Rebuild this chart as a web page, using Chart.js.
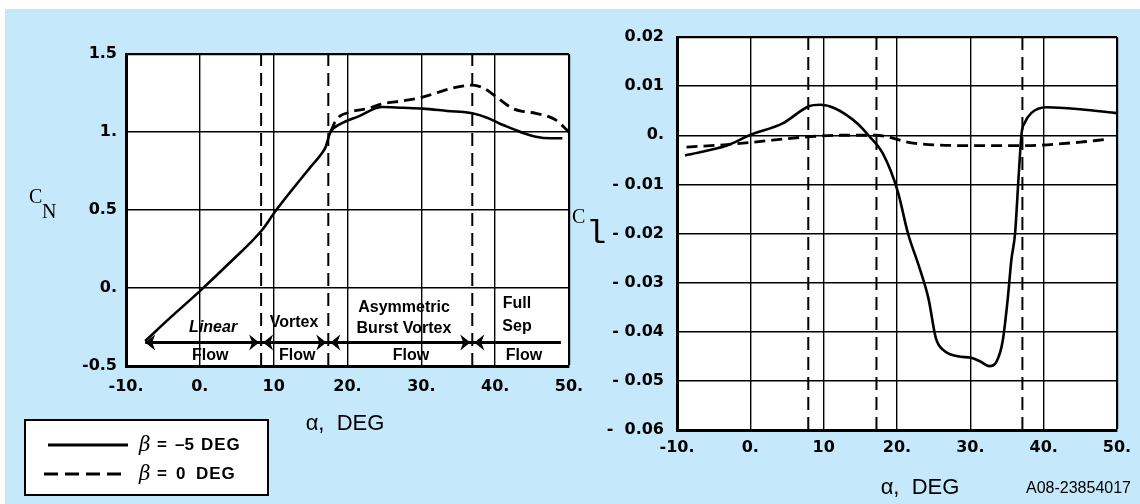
<!DOCTYPE html>
<html>
<head>
<meta charset="utf-8">
<script src="https://cdn.jsdelivr.net/npm/chart.js@4.4.1/dist/chart.umd.min.js"></script>
<style>
html,body{margin:0;padding:0;background:#fff;}
#wrap{position:relative;width:1140px;height:504px;overflow:hidden;background:#fff;}
#bg{position:absolute;left:5px;top:9px;width:1135px;height:495px;background:#C5E8FB;}
canvas{position:absolute;left:0;top:0;}
</style>
</head>
<body>
<div id="wrap">
  <div id="bg"></div>
  <canvas id="cn" width="1140" height="504"></canvas>
  <canvas id="cl" width="1140" height="504"></canvas>
</div>
<script>
// ---------------- data ----------------
const alphaTickValues = [-10, 0, 10, 20, 30, 40, 50];
const alphaTickLabels = ['-10.', '0.', '10', '20.', '30.', '40.', '50.'];
const cnTickLabels = ['-0.5', '0.', '0.5', '1.', '1.5'];
const clTickLabels = ['-  0.06', '- 0.05', '- 0.04', '- 0.03', '- 0.02', '- 0.01', '0.', '0.01', '0.02'];

// C_N, beta = -5 deg (solid)
const cnAlphaBetaM5 = [-7.4, -4, 0, 4, 8.4, 10.2, 12.5, 14.9, 16.3, 17.0, 17.7, 19.0, 21.5, 24.7, 27.5, 30.2, 33.5, 36.9, 39.0, 40.8, 42.4, 44.0, 45.5, 47.5, 49.1];
const cnBetaM5      = [-0.34, -0.19, -0.02, 0.16, 0.37, 0.49, 0.63, 0.77, 0.85, 0.90, 1.00, 1.05, 1.10, 1.16, 1.155, 1.15, 1.135, 1.12, 1.09, 1.05, 1.02, 0.99, 0.97, 0.96, 0.96];
// C_N, beta = 0 deg (dashed)
const cnAlphaBeta0 = [17.7, 18.5, 20.5, 22.7, 24.7, 27.5, 29.9, 32.0, 34.1, 36.9, 38.5, 40.3, 42.4, 44.0, 45.5, 48.1, 50.0];
const cnBeta0      = [1.00, 1.08, 1.13, 1.15, 1.18, 1.20, 1.22, 1.25, 1.28, 1.30, 1.28, 1.22, 1.15, 1.13, 1.12, 1.08, 1.00];

// C_l, beta = -5 deg (solid)
const clAlphaBetaM5 = [-8.9, -3.2, -0.1, 4.4, 8.0, 9.5, 11.5, 14.6, 16.1, 18.1, 20.1, 21.5, 23.0, 24.3, 25.3, 26.3, 28.3, 30.1, 31.3, 32.6, 33.6, 34.4, 35.1, 35.6, 36.1, 36.6, 37.0, 37.4, 38.3, 40.4, 45.0, 50.0];
const clBetaM5      = [-0.0041, -0.0021, 0, 0.0024, 0.0059, 0.0062, 0.0055, 0.0024, 0, -0.0038, -0.0114, -0.020, -0.0267, -0.0333, -0.0413, -0.0437, -0.045, -0.0453, -0.046, -0.047, -0.046, -0.042, -0.0333, -0.0253, -0.020, -0.008, 0.0005, 0.0025, 0.0045, 0.0057, 0.0053, 0.0045];
// C_l, beta = 0 deg (dashed)
const clAlphaBeta0 = [-8.7, -3.2, 0.4, 8.0, 12.5, 17.1, 22.2, 29.8, 37.3, 45.0, 48.2];
const clBeta0      = [-0.0024, -0.0019, -0.0014, -0.0003, 0, 0, -0.0016, -0.0021, -0.0021, -0.0014, -0.0009];

// flow-regime boundaries (alpha, deg)
const cnRegionBounds = [8.3, 17.4, 36.9];
const clRegionBounds = [7.9, 17.2, 37.1];
const flowArrowEnds = [-7.4, 48.9];
const flowRegionNames = [['Linear', 'Flow'], ['Vortex', 'Flow'], ['Asymmetric', 'Burst Vortex', 'Flow'], ['Full', 'Sep', 'Flow']];
const legendEntries = [['β', '=', '–5', 'DEG'], ['β', '=', '0', 'DEG']];

// ---------------- layout / styles ----------------
const TICK_FONT = {family: '"DejaVu Sans", sans-serif', weight: 'bold', size: 16};
// annotation placement (data units of the C_N chart)
const regionLabelPos = [
  [{x: 1.8, y: -0.254, italic: true}, {x: 1.4, y: -0.434}],
  [{x: 12.75, y: -0.221}, {x: 13.2, y: -0.434}],
  [{x: 27.65, y: -0.125}, {x: 27.65, y: -0.26}, {x: 28.6, y: -0.434}],
  [{x: 42.96, y: -0.099}, {x: 42.96, y: -0.247}, {x: 43.9, y: -0.434}]
];
const ARROW_LEVEL = -0.35;

function pts(xs, ys) { return xs.map((x, i) => ({x: x, y: ys[i]})); }

function boundaryDatasets(bounds, yMin, yMax) {
  return bounds.map(b => ({
    data: [{x: b, y: yMin}, {x: b, y: yMax}],
    borderColor: '#000', borderWidth: 2, borderDash: [13, 7],
    pointRadius: 0, fill: false, tension: 0
  }));
}

function seriesDataset(xs, ys, dashed) {
  return {
    data: pts(xs, ys),
    borderColor: '#000', borderWidth: dashed ? 2.8 : 2.6,
    borderDash: dashed ? [11, 6] : [],
    pointRadius: 0, fill: false,
    cubicInterpolationMode: 'monotone'
  };
}

const plotBg = {
  id: 'plotBg',
  beforeDraw(chart) {
    const {ctx, chartArea: a} = chart;
    ctx.save();
    ctx.fillStyle = '#fff';
    ctx.fillRect(a.left, a.top, a.right - a.left, a.bottom - a.top);
    ctx.restore();
  }
};

function gridWidth(c) {
  const n = c.scale.ticks.length;
  return c.index === n - 1 ? 2.2 : 1.4;
}

function makeOptions(pad, yWidth, xHeight, yMin, yMax, yStep, yLabels, yPad, xPad) {
  return {
    responsive: false, animation: false, devicePixelRatio: 1, events: [],
    layout: {padding: pad},
    plugins: {legend: {display: false}, tooltip: {enabled: false}},
    scales: {
      x: {
        type: 'linear', min: -10, max: 50,
        ticks: {
          stepSize: 10, padding: xPad, color: '#000', font: TICK_FONT,
          autoSkip: false, maxRotation: 0,
          callback: v => alphaTickLabels[alphaTickValues.indexOf(Math.round(v))]
        },
        grid: {color: '#000', lineWidth: gridWidth, drawTicks: false},
        border: {display: true, color: '#000', width: 3},
        afterFit: s => { s.height = xHeight; }
      },
      y: {
        type: 'linear', min: yMin, max: yMax,
        ticks: {
          stepSize: yStep, padding: yPad, color: '#000', font: TICK_FONT,
          autoSkip: false,
          callback: (v, i) => yLabels[i]
        },
        grid: {color: '#000', lineWidth: gridWidth, drawTicks: false},
        border: {display: true, color: '#000', width: 3},
        afterFit: s => { s.width = yWidth; }
      }
    }
  };
}

function arrowHead(ctx, x, y, dir) {
  ctx.beginPath();
  ctx.moveTo(x, y);
  ctx.lineTo(x - dir * 10, y - 8);
  ctx.lineTo(x - dir * 7, y);
  ctx.lineTo(x - dir * 10, y + 8);
  ctx.closePath();
  ctx.fill();
}

const cnAnnotations = {
  id: 'cnAnnotations',
  afterDatasetsDraw(chart) {
    const {ctx} = chart;
    const xs = chart.scales.x, ys = chart.scales.y;
    const y = ys.getPixelForValue(ARROW_LEVEL);
    const x0 = xs.getPixelForValue(flowArrowEnds[0]);
    const x1 = xs.getPixelForValue(flowArrowEnds[1]);
    ctx.save();
    ctx.strokeStyle = '#000'; ctx.fillStyle = '#000';
    ctx.lineWidth = 3;
    ctx.beginPath(); ctx.moveTo(x0, y); ctx.lineTo(x1, y); ctx.stroke();
    arrowHead(ctx, x0, y, -1);
    cnRegionBounds.forEach(b => {
      const bx = xs.getPixelForValue(b);
      arrowHead(ctx, bx - 2, y, 1);
      arrowHead(ctx, bx + 2, y, -1);
    });
    ctx.textAlign = 'center'; ctx.textBaseline = 'middle';
    flowRegionNames.forEach((lines, r) => {
      lines.forEach((t, k) => {
        const p = regionLabelPos[r][k];
        ctx.font = (p.italic ? 'italic ' : '') + 'bold 16px "Liberation Sans", Arial, sans-serif';
        ctx.fillText(t, xs.getPixelForValue(p.x), ys.getPixelForValue(p.y));
      });
    });
    ctx.restore();
  },
  afterDraw(chart) {
    const {ctx} = chart;
    ctx.save();
    ctx.fillStyle = '#000';
    // y axis label C_N
    ctx.font = '20px "Liberation Serif", serif';
    ctx.textBaseline = 'alphabetic'; ctx.textAlign = 'left';
    ctx.fillText('C', 29, 203);
    ctx.fillText('N', 42, 218);
    // x axis title
    ctx.font = '22px "Liberation Sans", Arial, sans-serif';
    ctx.textAlign = 'center'; ctx.textBaseline = 'middle';
    ctx.fillText('α,  DEG', 345, 424);
    // legend box
    ctx.fillStyle = '#fff';
    ctx.fillRect(25, 420, 243, 75);
    ctx.strokeStyle = '#000'; ctx.lineWidth = 2;
    ctx.strokeRect(25, 420, 243, 75);
    ctx.lineWidth = 3;
    ctx.beginPath(); ctx.moveTo(48, 445); ctx.lineTo(128, 445); ctx.stroke();
    ctx.setLineDash([14, 7]);
    ctx.beginPath(); ctx.moveTo(44, 474); ctx.lineTo(127, 474); ctx.stroke();
    ctx.setLineDash([]);
    ctx.fillStyle = '#000';
    ctx.textAlign = 'left'; ctx.textBaseline = 'middle';
    const rows = [445, 474];
    const xPos = [[139, 157, 175, 201], [139, 157, 176, 196]];
    legendEntries.forEach((parts, r) => {
      parts.forEach((t, k) => {
        if (k === 0) ctx.font = 'italic 20px "DejaVu Serif", serif';
        else ctx.font = 'bold 17px "Liberation Sans", Arial, sans-serif';
        ctx.letterSpacing = (k === 3) ? '1px' : '0px';
        ctx.fillText(t, xPos[r][k], rows[r] + (k === 0 ? 1 : 0));
      });
    });
    ctx.letterSpacing = '0px';
    ctx.restore();
  }
};

const clAnnotations = {
  id: 'clAnnotations',
  afterDraw(chart) {
    const {ctx} = chart;
    ctx.save();
    ctx.fillStyle = '#000';
    ctx.textAlign = 'left'; ctx.textBaseline = 'alphabetic';
    ctx.font = '20px "Liberation Serif", serif';
    ctx.fillText('C', 572, 223);
    ctx.font = '34px "Liberation Mono", monospace';
    ctx.fillText('l', 586, 243);
    ctx.font = '22px "Liberation Sans", Arial, sans-serif';
    ctx.textAlign = 'center'; ctx.textBaseline = 'middle';
    ctx.fillText('α,  DEG', 920, 488);
    ctx.font = '16px "Liberation Sans", Arial, sans-serif';
    ctx.textAlign = 'left';
    ctx.fillText('A08-23854017', 1026, 489);
    ctx.restore();
  }
};

// ---------------- charts ----------------
new Chart(document.getElementById('cn'), {
  type: 'line',
  data: {
    datasets: [
      ...boundaryDatasets(cnRegionBounds, -0.5, 1.5),
      seriesDataset(cnAlphaBetaM5, cnBetaM5, false),
      seriesDataset(cnAlphaBeta0, cnBeta0, true)
    ]
  },
  options: makeOptions({left: 0, top: 54, right: 571, bottom: 0}, 126, 138, -0.5, 1.5, 0.5, cnTickLabels, 9, 11),
  plugins: [plotBg, cnAnnotations]
});

new Chart(document.getElementById('cl'), {
  type: 'line',
  data: {
    datasets: [
      ...boundaryDatasets(clRegionBounds, -0.06, 0.02),
      seriesDataset(clAlphaBetaM5, clBetaM5, false),
      seriesDataset(clAlphaBeta0, clBeta0, true)
    ]
  },
  options: makeOptions({left: 0, top: 37, right: 23, bottom: 0}, 677, 74, -0.06, 0.02, 0.01, clTickLabels, 13, 8),
  plugins: [plotBg, clAnnotations]
});
</script>
</body>
</html>
